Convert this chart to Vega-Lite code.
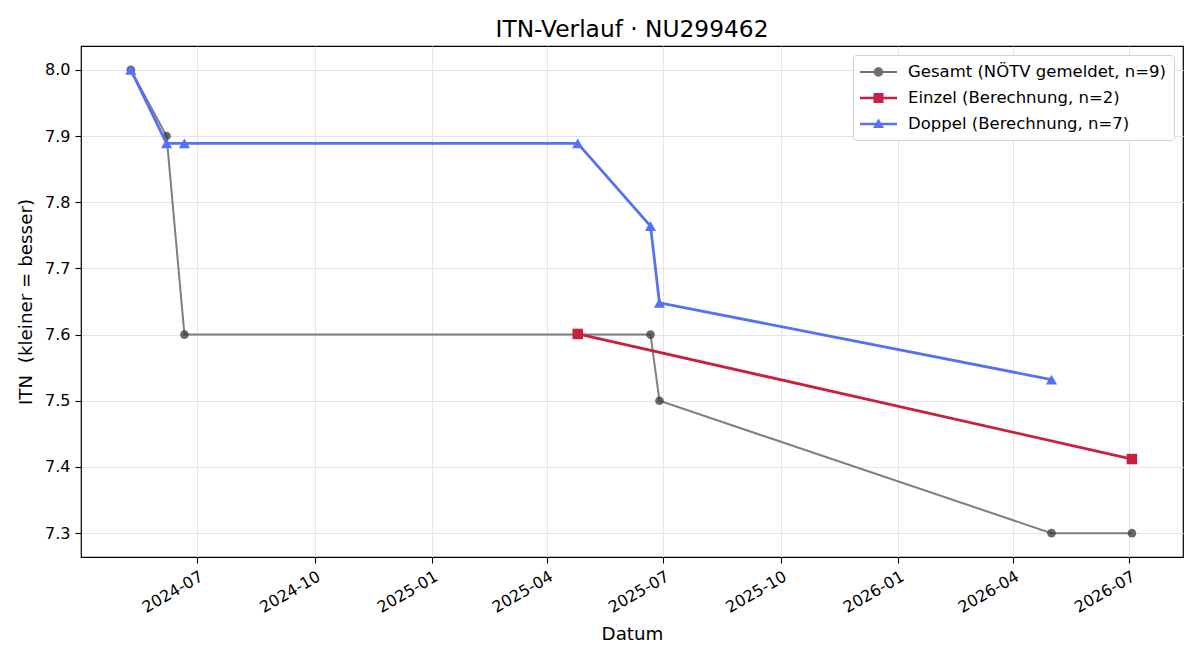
{
  "$schema": "https://vega.github.io/schema/vega-lite/v6.json",
  "width": 1102,
  "height": 511,
  "autosize": {"type": "none"},
  "padding": {"left": 81, "top": 46, "right": 17, "bottom": 103},
  "background": "white",
  "title": {"text": "ITN-Verlauf · NU299462", "font": "DejaVu Sans", "fontSize": 23.3, "fontWeight": "normal", "color": "black", "offset": 4},
  "config": {
    "font": "DejaVu Sans",
    "view": {"stroke": "black", "strokeWidth": 1.2},
    "axis": {"labelFont": "DejaVu Sans", "titleFont": "DejaVu Sans", "labelFontSize": 16, "titleFontSize": 18.3, "titleFontWeight": "normal", "labelColor": "black", "titleColor": "black", "gridColor": "#e5e5e5", "gridWidth": 1, "tickColor": "black", "tickSize": 6, "tickWidth": 1.1, "labelPadding": 5, "domain": false}
  },
  "datasets": {
    "g": [
      {"date": "2024-05-10", "itn": 8.0},
      {"date": "2024-06-07", "itn": 7.9},
      {"date": "2024-06-21", "itn": 7.6},
      {"date": "2025-04-25", "itn": 7.6},
      {"date": "2025-06-21", "itn": 7.6},
      {"date": "2025-06-28", "itn": 7.5},
      {"date": "2026-05-01", "itn": 7.3},
      {"date": "2026-07-03", "itn": 7.3}
    ],
    "e": [
      {"date": "2025-04-25", "itn": 7.601},
      {"date": "2026-07-03", "itn": 7.412}
    ],
    "d": [
      {"date": "2024-05-10", "itn": 8.0},
      {"date": "2024-06-07", "itn": 7.889},
      {"date": "2024-06-21", "itn": 7.889},
      {"date": "2025-04-25", "itn": 7.889},
      {"date": "2025-06-21", "itn": 7.764},
      {"date": "2025-06-28", "itn": 7.648},
      {"date": "2026-05-01", "itn": 7.532}
    ],
    "leg": [
      {"s": "Gesamt (NÖTV gemeldet, n=9)"},
      {"s": "Einzel (Berechnung, n=2)"},
      {"s": "Doppel (Berechnung, n=7)"}
    ]
  },
  "encoding": {
    "x": {"field": "date", "type": "temporal",
      "scale": {"type": "utc", "domain": [{"year": 2024, "month": 4, "date": 1, "utc": true}, {"year": 2026, "month": 8, "date": 12, "utc": true}]},
      "axis": {"title": "Datum", "labelExpr": "utcFormat(datum.value, '%Y-%m')", "labelAngle": -30, "labelAlign": "right", "labelBaseline": "top", "labelDx": -4, "labelDy": 1, "titlePadding": 10,
        "values": [
          {"year": 2024, "month": 7, "date": 1, "utc": true},
          {"year": 2024, "month": 10, "date": 1, "utc": true},
          {"year": 2025, "month": 1, "date": 1, "utc": true},
          {"year": 2025, "month": 4, "date": 1, "utc": true},
          {"year": 2025, "month": 7, "date": 1, "utc": true},
          {"year": 2025, "month": 10, "date": 1, "utc": true},
          {"year": 2026, "month": 1, "date": 1, "utc": true},
          {"year": 2026, "month": 4, "date": 1, "utc": true},
          {"year": 2026, "month": 7, "date": 1, "utc": true}
        ]}},
    "y": {"field": "itn", "type": "quantitative",
      "scale": {"domain": [7.264, 8.036], "nice": false, "zero": false},
      "axis": {"title": "ITN\u00a0 (kleiner = besser)", "format": ".1f", "values": [7.3, 7.4, 7.5, 7.6, 7.7, 7.8, 7.9, 8.0], "titlePadding": 9}}
  },
  "layer": [
    {"data": {"name": "g"}, "mark": {"type": "line", "color": "#7f7f7f", "strokeWidth": 2}, "encoding": {}},
    {"data": {"name": "g"}, "mark": {"type": "point", "shape": "circle", "filled": true, "color": "#3a3a3a", "opacity": 0.75, "size": 75}, "encoding": {}},
    {"data": {"name": "e"}, "mark": {"type": "line", "color": "#c8203e", "strokeWidth": 2.8}, "encoding": {}},
    {"data": {"name": "e"}, "mark": {"type": "point", "shape": "square", "filled": true, "color": "#c8203e", "opacity": 1, "size": 110}, "encoding": {}},
    {"data": {"name": "d"}, "mark": {"type": "line", "color": "#5672f2", "strokeWidth": 2.8}, "encoding": {}},
    {"data": {"name": "d"}, "mark": {"type": "point", "shape": "triangle-up", "filled": true, "color": "#5672f2", "opacity": 1, "size": 125}, "encoding": {}},
    {"data": {"name": "leg"}, "mark": {"type": "point", "filled": true, "opacity": 1, "size": 0.01},
      "encoding": {
        "x": {"value": 0}, "y": {"value": 0},
        "color": {"field": "s", "type": "nominal",
          "scale": {"domain": ["Gesamt (NÖTV gemeldet, n=9)", "Einzel (Berechnung, n=2)", "Doppel (Berechnung, n=7)"], "range": ["#6e6e6e", "#c8203e", "#5672f2"]},
          "legend": {"title": null, "orient": "top-right", "offset": 9, "labelFontSize": 16.5, "labelFont": "DejaVu Sans", "labelColor": "black", "symbolOpacity": 1, "symbolSize": 400, "symbolStrokeWidth": 0, "fillColor": "white", "strokeColor": "#d0d0d0", "padding": 7, "rowPadding": 7, "labelOffset": 28, "cornerRadius": 3, "labelLimit": 400}},
        "shape": {"field": "s", "type": "nominal",
          "scale": {"domain": ["Gesamt (NÖTV gemeldet, n=9)", "Einzel (Berechnung, n=2)", "Doppel (Berechnung, n=7)"], "range": [
            "M-1,-0.1H0.4V0.1H-1Z M1.3,-0.1H2.7V0.1H1.3Z M0.38,0A0.47,0.47 0 1,1 1.32,0A0.47,0.47 0 1,1 0.38,0Z",
            "M-1,-0.135H0.4V0.135H-1Z M1.3,-0.135H2.7V0.135H1.3Z M0.35,-0.5H1.35V0.5H0.35Z",
            "M-1,-0.135H2.7V0.135H-1Z M0.85,-0.55L1.4,0.4H0.3Z"
          ]}}
      }}
  ]
}
